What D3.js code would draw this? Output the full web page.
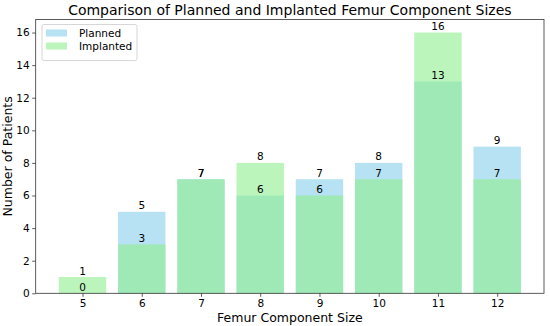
<!DOCTYPE html>
<html>
<head>
<meta charset="utf-8">
<script src="https://cdn.jsdelivr.net/npm/d3@7"></script>
<style>
  body { margin: 0; background: #fff; }
  text { font-family: "DejaVu Sans", sans-serif; fill: #000; }
</style>
</head>
<body>
<svg id="chart" width="550" height="326"></svg>
<script>
// femur sizes and patient counts
const sizes = [5, 6, 7, 8, 9, 10, 11, 12];
const planned = [0, 5, 7, 6, 7, 8, 13, 9];
const implanted = [1, 3, 7, 8, 6, 7, 16, 7];
const yTicks = [0, 2, 4, 6, 8, 10, 12, 14, 16];

const svg = d3.select("#chart");
const margin = {left: 35.7, right: 6, top: 19.5, bottom: 32.7};
const W = 550, H = 326;

let x = d3.scaleLinear().domain([4.21, 12.79]).range([margin.left, W - margin.right]);
let y = d3.scaleLinear().domain([0, 16.8]).range([H - margin.bottom, margin.top]);
let bw = x(0.8) - x(0);

// planned bars
svg.append("g").selectAll("rect")
    .data(sizes)
    .enter().append("rect")
    .attr("x", (d, i) => x(d) - bw / 2)
    .attr("y", (d, i) => y(planned[i]))
    .attr("width", bw)
    .attr("height", (d, i) => y(0) - y(planned[i]))
    .attr("fill", "#87CEEB")
    .attr("fill-opacity", 0.6);

// implanted bars
svg.append("g").selectAll("rect")
    .data(sizes)
    .enter().append("rect")
    .attr("x", (d, i) => x(d) - bw / 2)
    .attr("y", (d, i) => y(implanted[i]))
    .attr("width", bw)
    .attr("height", (d, i) => y(0) - y(implanted[i]))
    .attr("fill", "#90EE90")
    .attr("fill-opacity", 0.6);

// value labels
[planned, implanted].forEach(function(vals) {
    svg.append("g").selectAll("text")
        .data(sizes)
        .enter().append("text")
        .attr("x", d => x(d))
        .attr("y", (d, i) => y(vals[i]) - 2.5)
        .attr("text-anchor", "middle")
        .style("font-size", "10.5px")
        .text((d, i) => vals[i]);
});

// axes
let xAxis = d3.axisBottom(x).tickValues(sizes).tickSize(3.5).tickPadding(2.5);
let yAxis = d3.axisLeft(y).tickValues(yTicks).tickSize(3.5).tickPadding(2.5);

let gx = svg.append("g").attr("transform", "translate(0," + (H - margin.bottom) + ")").call(xAxis);
let gy = svg.append("g").attr("transform", "translate(" + margin.left + ",0)").call(yAxis);
[gx, gy].forEach(function(g) {
    g.select(".domain").remove();
    g.selectAll(".tick line").attr("stroke", "#333").attr("stroke-width", 0.8);
    g.selectAll(".tick text").style("font-size", "10.5px").style("font-family", "DejaVu Sans").attr("fill", "#000");
});

// frame
svg.append("rect")
    .attr("x", margin.left)
    .attr("y", margin.top)
    .attr("width", W - margin.right - margin.left)
    .attr("height", H - margin.bottom - margin.top)
    .attr("fill", "none")
    .attr("stroke", "#333")
    .attr("stroke-width", 0.8);

// titles
svg.append("text")
    .attr("x", (margin.left + W - margin.right) / 2)
    .attr("y", 15)
    .attr("text-anchor", "middle")
    .style("font-size", "14px")
    .text("Comparison of Planned and Implanted Femur Component Sizes");

svg.append("text")
    .attr("x", (margin.left + W - margin.right) / 2)
    .attr("y", 322)
    .attr("text-anchor", "middle")
    .style("font-size", "12.5px")
    .text("Femur Component Size");

svg.append("text")
    .attr("transform", "translate(12," + ((margin.top + H - margin.bottom) / 2) + ") rotate(-90)")
    .attr("text-anchor", "middle")
    .style("font-size", "12.5px")
    .text("Number of Patients");

// legend
let legend = svg.append("g").attr("transform", "translate(42,24.5)");
legend.append("rect")
    .attr("width", 95).attr("height", 36).attr("rx", 2)
    .attr("fill", "#fff").attr("fill-opacity", 0.8)
    .attr("stroke", "#ccc").attr("stroke-width", 0.8);
let items = [["Planned", "#87CEEB"], ["Implanted", "#90EE90"]];
items.forEach(function(it, i) {
    legend.append("rect")
        .attr("x", 4).attr("y", 5 + i * 13)
        .attr("width", 21).attr("height", 7)
        .attr("fill", it[1]).attr("fill-opacity", 0.6);
    legend.append("text")
        .attr("x", 37).attr("y", 12.5 + i * 13)
        .style("font-size", "10.5px")
        .text(it[0]);
});
</script>
</body>
</html>
